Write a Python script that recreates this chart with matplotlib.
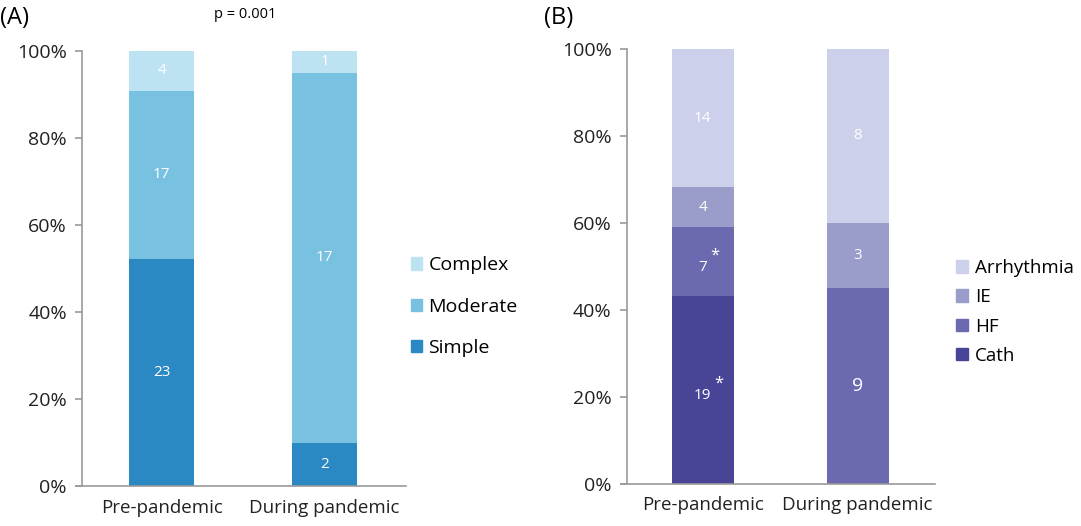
import numpy as np
import matplotlib.pyplot as plt
from matplotlib.patches import Patch

plt.rcParams['font.family'] = ['Open Sans', 'DejaVu Sans']

periods = ['Pre-pandemic', 'During pandemic']

# panel A: complexity counts (bottom -> top)
a_cats = ['Simple', 'Moderate', 'Complex']
a_counts = {'Simple': [23, 2], 'Moderate': [17, 17], 'Complex': [4, 1]}
a_colors = {'Simple': '#2A88C2', 'Moderate': '#78C1E1', 'Complex': '#BDE2F2'}

# panel B: reasons (bottom -> top)
b_cats = ['Cath', 'HF', 'IE', 'Arrhythmia']
b_counts = {'Cath': [19, 0], 'HF': [7, 9], 'IE': [4, 3], 'Arrhythmia': [14, 8]}
b_colors = {'Cath': '#484597', 'HF': '#6B69AF', 'IE': '#9A9CC9', 'Arrhythmia': '#CDD0EA'}
b_star = {'Cath': [True, False], 'HF': [True, False], 'IE': [False, False], 'Arrhythmia': [False, False]}

GRAY = '#9a9a9a'

fig = plt.figure(figsize=(10.81, 5.26), dpi=100)
axA = fig.add_axes([0.0759, 0.076, 0.2997, 0.827])
axB = fig.add_axes([0.580, 0.080, 0.285, 0.827])


def stacked(ax, cats, counts, colors, stars=None, big=None):
    x = np.arange(len(periods))
    totals = np.sum([counts[c] for c in cats], axis=0)
    bottom = np.zeros(len(periods))
    for c in cats:
        vals = np.array(counts[c], dtype=float)
        pct = vals / totals * 100
        ax.bar(x, pct, width=0.40, bottom=bottom, color=colors[c],
               edgecolor='none', zorder=2)
        for i in range(len(periods)):
            if vals[i] == 0:
                continue
            y = bottom[i] + pct[i] / 2
            fs = 11
            if big is not None and big.get(c, [False] * 2)[i]:
                fs = 14
            label = f'{int(vals[i])}'
            if stars is not None and stars[c][i]:
                # number sits a bit low, asterisk raised like a superscript
                ax.text(x[i], y - 1.3, label, ha='center', va='center',
                        color='white', fontsize=fs, zorder=3)
                dx = 0.045 + 0.03 * len(label)
                ax.text(x[i] + dx, y + 1.4, '*', ha='center', va='center',
                        color='white', fontsize=12, zorder=3)
            else:
                ax.text(x[i], y, label, ha='center', va='center',
                        color='white', fontsize=fs, zorder=3)
        bottom += pct

    ax.set_xlim(-0.49, 1.50)
    ax.set_ylim(0, 100)
    ax.set_xticks(x)
    ax.set_xticklabels(periods, fontsize=13.5, color='#222222')
    ax.set_yticks(np.arange(0, 101, 20))
    ax.set_yticklabels([f'{v}%' for v in range(0, 101, 20)], fontsize=14, color='#222222')
    ax.tick_params(axis='x', length=0, pad=9)
    ax.tick_params(axis='y', length=5, width=1.2, color=GRAY, pad=6)
    for s in ['top', 'right']:
        ax.spines[s].set_visible(False)
    for s in ['left', 'bottom']:
        ax.spines[s].set_color(GRAY)
        ax.spines[s].set_linewidth(1.2)
    ax.spines['bottom'].set_bounds(-0.49 - 0.04, 1.50)
    ax.spines['bottom'].set_clip_on(False)


stacked(axA, a_cats, a_counts, a_colors)
stacked(axB, b_cats, b_counts, b_colors, stars=b_star,
        big={'HF': [False, True]})

# legends (top category first)
hA = [Patch(color=a_colors[c], label=c) for c in reversed(a_cats)]
fig.legend(handles=hA, loc='center left', bbox_to_anchor=(0.380, 0.417),
           frameon=False, fontsize=14, handlelength=0.6, handleheight=0.6,
           handletextpad=0.3, labelspacing=1.2, borderpad=0, borderaxespad=0)

hB = [Patch(color=b_colors[c], label=c) for c in reversed(b_cats)]
fig.legend(handles=hB, loc='center left', bbox_to_anchor=(0.884, 0.407),
           frameon=False, fontsize=13.5, handlelength=0.65, handleheight=0.65,
           handletextpad=0.4, labelspacing=0.6, borderpad=0, borderaxespad=0)

fig.text(0.0, 0.966, '(A)', fontsize=17, va='center', ha='left')
fig.text(0.503, 0.966, '(B)', fontsize=17, va='center', ha='left')
fig.text(0.227, 0.973, 'p = 0.001', fontsize=10.5, va='center', ha='center')

plt.savefig('out.png', dpi=100)
